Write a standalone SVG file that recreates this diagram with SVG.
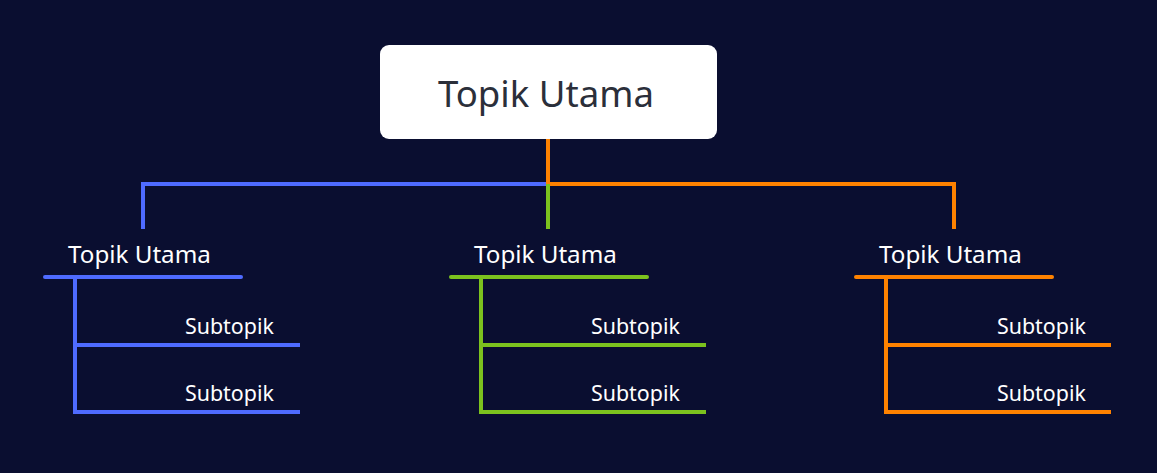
<svg xmlns="http://www.w3.org/2000/svg" width="1157" height="473" viewBox="0 0 1157 473">
<style>
.bg{fill:#0a0e30}
.root{fill:#ffffff}
.rt{font-family:"Noto Sans","Open Sans",sans-serif;font-size:36.6px;fill:#2b2f3a;text-anchor:middle}
.mt{font-family:"Noto Sans","Open Sans",sans-serif;font-size:24.2px;fill:#ffffff}
.st{font-family:"Noto Sans","Open Sans",sans-serif;font-size:21.4px;fill:#ffffff}
.ln{fill:none;stroke-width:4}
.cap{stroke-linecap:round}
.b{stroke:#4f6bff}
.g{stroke:#7cc21e}
.o{stroke:#ff8200}
</style>
<rect class="bg" x="0" y="0" width="1157" height="473"/>
<g id="connectors">
<polyline class="ln b" points="143,229 143,184 548,184"/>
<polyline class="ln o" points="548,139 548,184 954,184 954,229"/>
<line class="ln g" x1="548" y1="184" x2="548" y2="229"/>
<polyline class="ln b" points="75,277 75,412 300,412"/>
<line class="ln b" x1="75" y1="345" x2="300" y2="345"/>
<polyline class="ln g" points="481,277 481,412 706,412"/>
<line class="ln g" x1="481" y1="345" x2="706" y2="345"/>
<polyline class="ln o" points="886,277 886,412 1111,412"/>
<line class="ln o" x1="886" y1="345" x2="1111" y2="345"/>
</g>
<g id="root">
<rect class="root" x="380" y="45" width="337" height="94" rx="9"/>
<text class="rt" x="546" y="107">Topik Utama</text>
</g>
<g id="main-left">
<line class="ln b cap" x1="45" y1="277" x2="241" y2="277"/>
<text class="mt" x="68" y="263">Topik Utama</text>
</g>
<g id="main-mid">
<line class="ln g cap" x1="451" y1="277" x2="647" y2="277"/>
<text class="mt" x="474" y="263">Topik Utama</text>
</g>
<g id="main-right">
<line class="ln o cap" x1="856" y1="277" x2="1052" y2="277"/>
<text class="mt" x="879" y="263">Topik Utama</text>
</g>
<g id="sub-left-1"><text class="st" x="185" y="334">Subtopik</text></g>
<g id="sub-left-2"><text class="st" x="185" y="401">Subtopik</text></g>
<g id="sub-mid-1"><text class="st" x="591" y="334">Subtopik</text></g>
<g id="sub-mid-2"><text class="st" x="591" y="401">Subtopik</text></g>
<g id="sub-right-1"><text class="st" x="997" y="334">Subtopik</text></g>
<g id="sub-right-2"><text class="st" x="997" y="401">Subtopik</text></g>
</svg>
